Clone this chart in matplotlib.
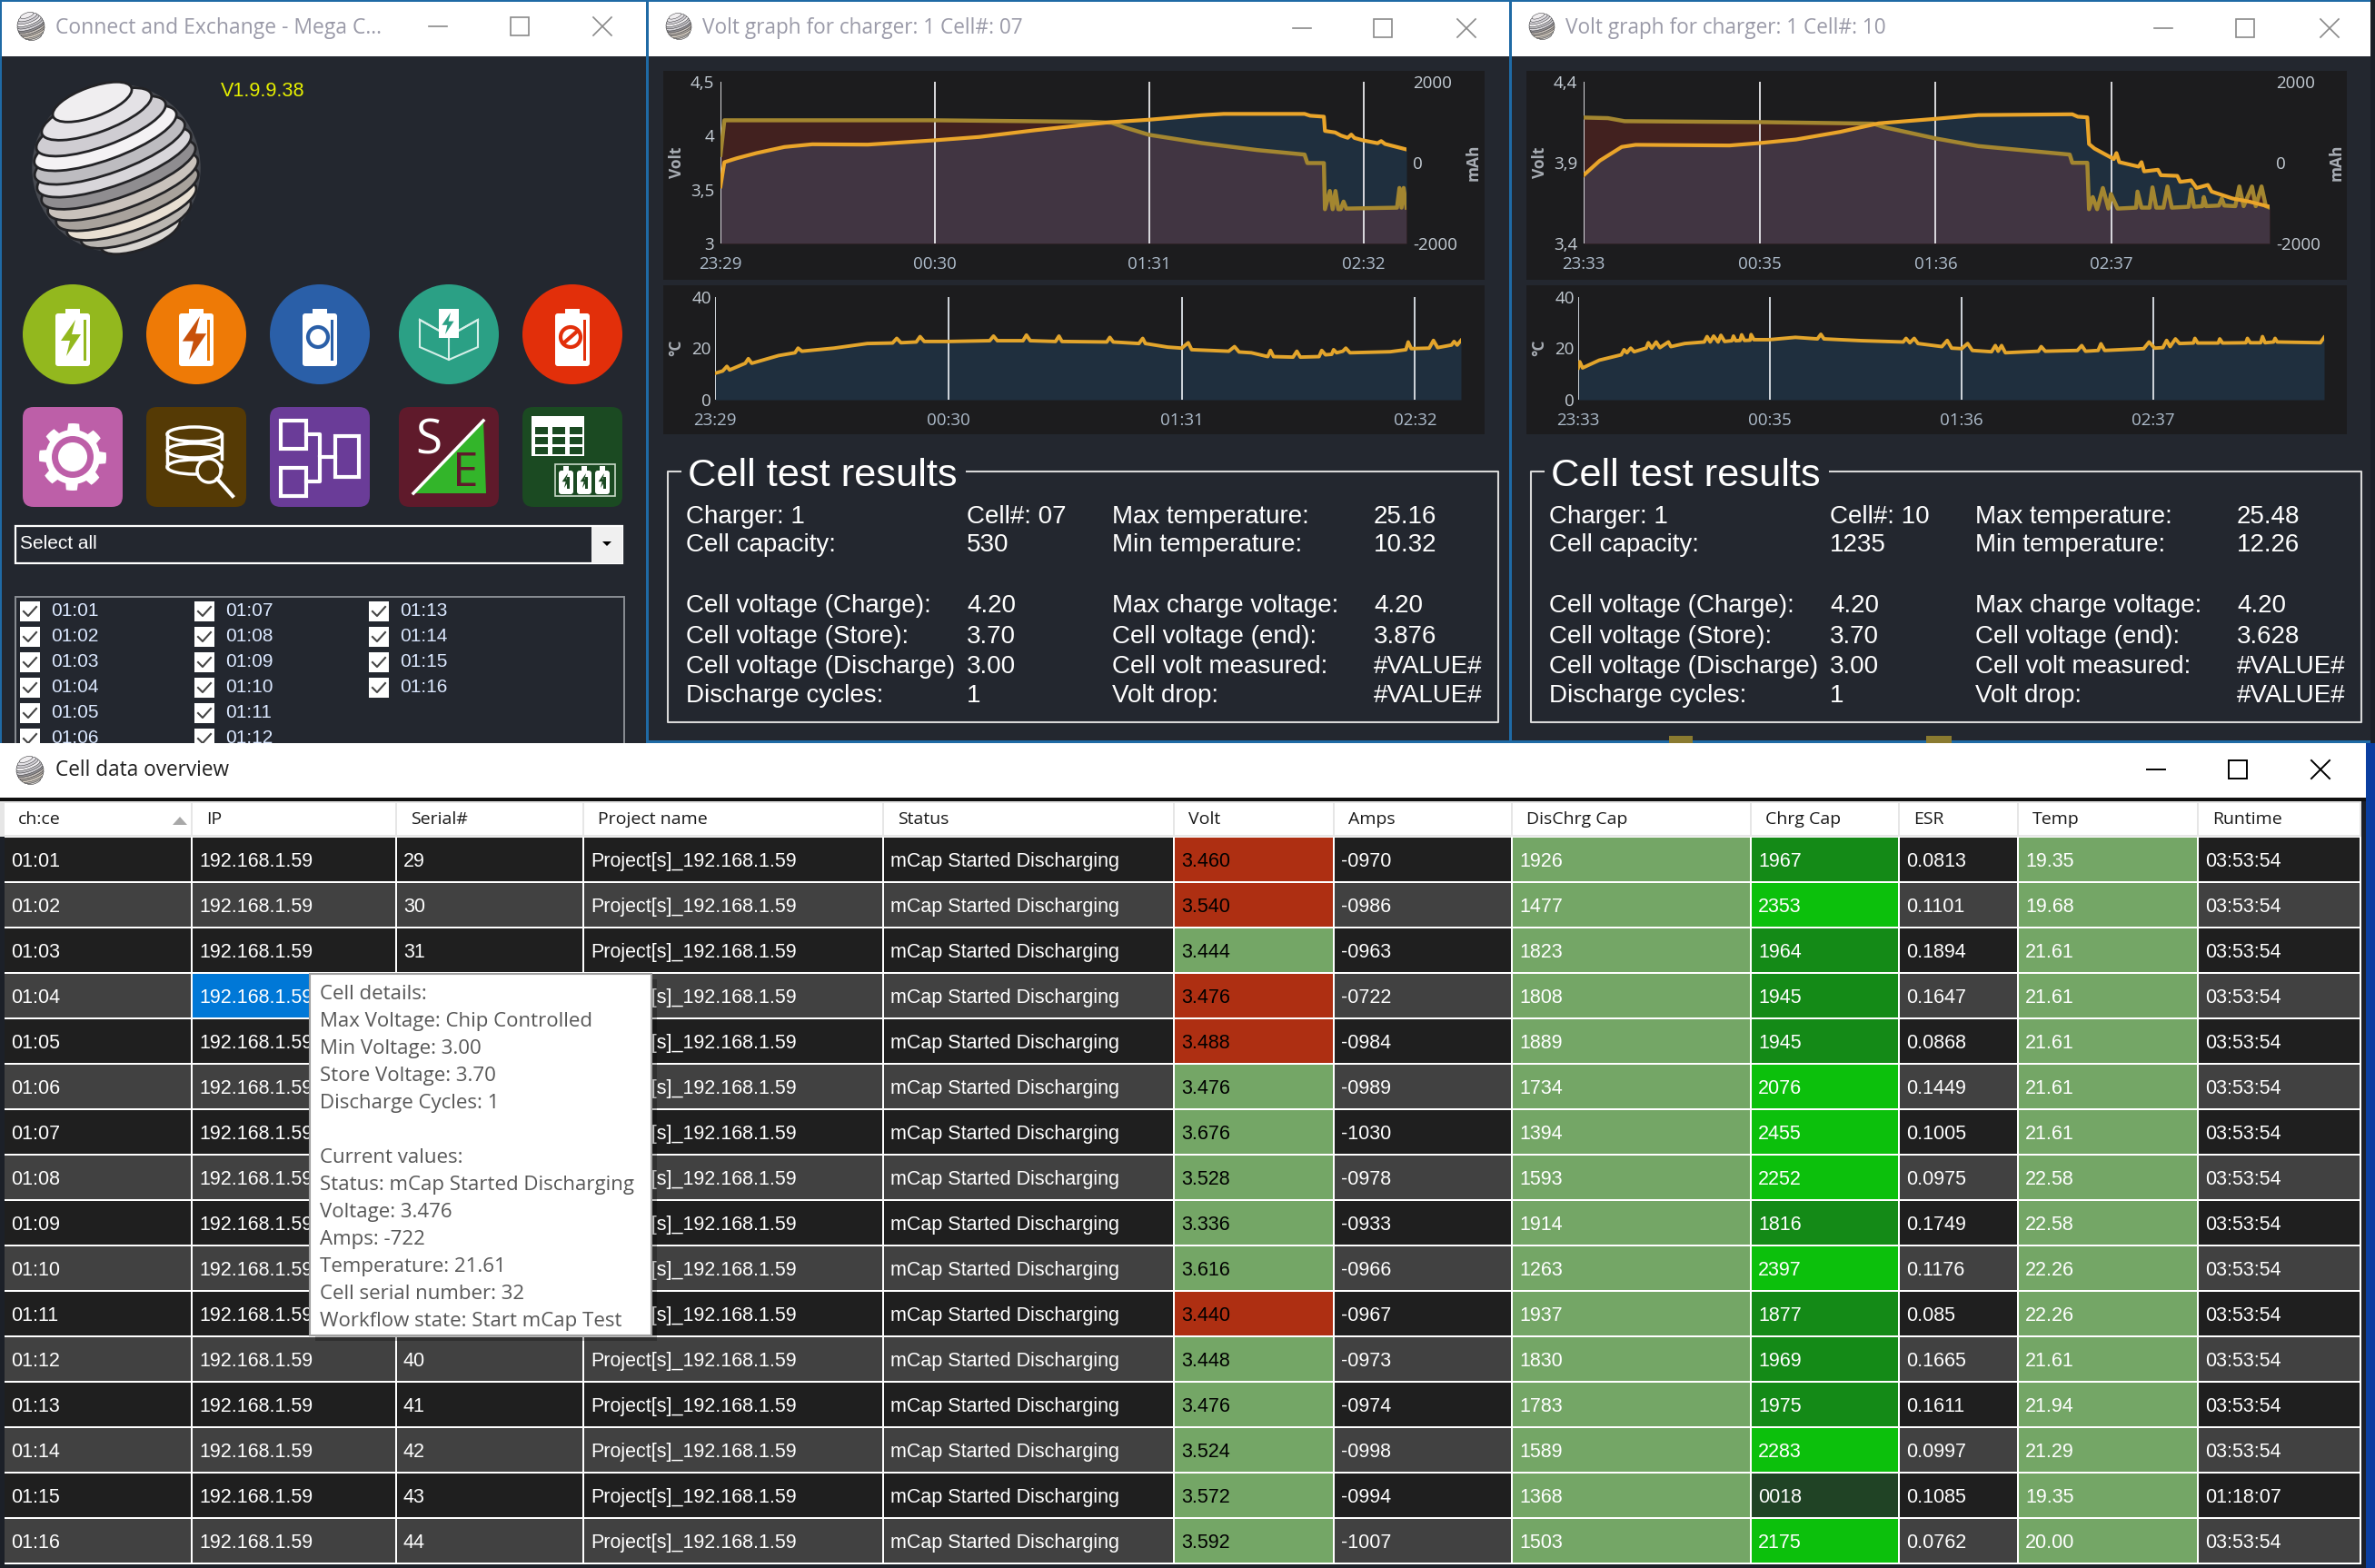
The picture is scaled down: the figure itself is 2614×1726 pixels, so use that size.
import numpy as np
import matplotlib
matplotlib.use("Agg")
import matplotlib.pyplot as plt
from matplotlib.patches import Rectangle, Circle, Ellipse, Polygon, FancyBboxPatch

W, H = 2614, 1726

# ---- graph data, cell 07 ----
t07_volt = [0, 1.1, 4.7, 10.3, 18.2, 26.1, 41.9, 60.9, 73.6, 89.4, 105.3, 111.3, 122, 136.9, 143.2, 166.2,
            167.8, 171.7, 172, 174.9, 176.5, 178.5, 179.5, 180.4, 182.8, 187, 188, 189.1, 195.2]
volt07 = [3.529, 3.754, 3.791, 3.839, 3.895, 3.920, 3.917, 3.957, 3.988, 4.050, 4.106, 4.126, 4.148, 4.190, 4.202, 4.202,
          4.185, 4.176, 4.044, 4.030, 4.002, 3.98, 4.01, 3.979, 3.957, 3.93, 3.95, 3.923, 3.872]
t07_mah = [0, 1.1, 60.9, 105.3, 111.3, 114.9, 122, 136.9, 152.7, 166.2, 167, 171.7, 172, 173.4, 174.2, 175, 175.8, 176.5,
           177.3, 178.1, 192.5, 193.2, 193.8, 194.4, 195.2]
mah07 = [190, 1047, 1047, 1010, 987, 874, 687, 484, 311, 199, -11, -11, -1152, -702, -1152, -702, -1152, -1152,
         -964, -1137, -1114, -627, -1114, -627, -1114]
t07_temp = [0, 2, 3.1, 3.8, 7.9, 8.7, 9.6, 16.6, 20.9, 21.7, 22.7, 31.1, 39.8, 46.4, 47.5, 48.6, 52.6, 53.6, 54.7, 61.1,
            71.8, 72.8, 73.8, 80.5, 81.4, 82.4, 89, 89.9, 90.7, 102.4, 103.2, 104.1, 110.8, 111.8, 112.5, 118.3, 122,
            123.7, 124.6, 134.3, 135.8, 137, 140.2, 144.5, 145.2, 146, 151.1, 152.1, 153, 157.9, 158.6, 159.6, 161.2,
            161.7, 162.5, 164.1, 164.9, 166, 176.5, 180.6, 181.2, 182, 186.7, 187.8, 188.9, 192.5, 193.2, 194, 195]
temp07 = [10.3, 11.2, 13.0, 11.6, 14.2, 16.0, 14.2, 17.2, 18.3, 20.1, 18.9, 20.1, 21.9, 22.1, 23.9, 22.2, 22.5, 24.6, 22.7, 22.7,
          23.0, 24.8, 23.0, 23.0, 25.2, 23.0, 22.7, 24.8, 22.7, 22.5, 24.3, 22.5, 21.9, 23.9, 21.9, 20.5, 20.1,
          22.2, 19.5, 18.9, 20.7, 18.6, 18.3, 16.8, 19.2, 16.8, 16.6, 18.9, 16.6, 16.8, 19.2, 17.5, 17.7,
          19.5, 18.3, 18.9, 20.1, 18.3, 18.7, 19.5, 22.5, 19.9, 20.1, 23.1, 20.3, 21.3, 22.7, 21.3, 23.1]

# ---- graph data, cell 10 ----
t10_volt = [0, 5.6, 13.2, 18, 50.6, 61.1, 73.6, 88.9, 102.3, 122.1, 136.8, 169.4, 171.3, 174.6, 175.2, 177.1, 183.8, 184.7,
            185.7, 192.4, 193.4, 194.3, 199.1, 200.1, 205.8, 206.8, 210.6, 212.5, 216.4, 217.7, 225, 230.7, 237.8]
volt10 = [3.822, 3.912, 3.997, 4.010, 4.006, 4.021, 4.043, 4.090, 4.143, 4.171, 4.194, 4.199, 4.184, 4.180, 4.015, 3.987, 3.922, 3.959,
          3.903, 3.875, 3.903, 3.846, 3.856, 3.822, 3.818, 3.781, 3.790, 3.743, 3.762, 3.721, 3.678, 3.659, 3.627]
t10_mah = [0, 8.4, 14.2, 61.1, 100.4, 104.3, 122.1, 136.8, 168.5, 169.4, 174.6, 175.2, 176.5, 178, 180, 181.9, 182.8, 185.1, 191.5, 192,
           193.4, 196.2, 197.2, 198.5, 201, 202.4, 203.9, 209.7, 210.6, 211.6, 214.5, 215, 215.8, 220.2, 221.2, 222.1,
           225.9, 227.3, 228.8, 231.7, 233, 235, 236.5, 237.8]
mah10 = [1115, 1100, 1025, 1002, 964, 874, 597, 409, 199, -4, -4, -1152, -852, -1152, -627, -1137, -777, -1137, -1114, -717,
         -1114, -1114, -612, -1114, -1114, -590, -1114, -1092, -664, -1092, -1077, -852, -1077, -1062, -889, -1062,
         -1077, -590, -1077, -590, -1077, -590, -1077, -1114]
t10_temp = [0, 0.5, 1.4, 6.7, 13.7, 14.6, 15.5, 16.7, 17.8, 21.6, 22.3, 23.4, 24.8, 26, 28.7, 29.5, 33.9, 40.1, 41, 42, 43.1, 44.5,
            45.4, 46.6, 48.9, 49.4, 50.1, 51.5, 52, 52.9, 54.7, 55, 55.9, 60.8, 69.1, 76.1, 77.2, 78.2, 90.2, 103.4, 104.3,
            105.5, 106.9, 108.1, 115.7, 117.4, 118.8, 122, 123.9, 125.4, 131.5, 132.7, 133.6, 134.7, 135.9, 146.4, 147.3,
            148.6, 158.8, 160.2, 161.4, 165.4, 166.3, 167.5, 179.9, 181.6, 183.4, 186, 187.2, 188.3, 190, 191.3, 195.7,
            196.2, 197.1, 203.6, 204.1, 205, 212.4, 212.9, 213.8, 217.1, 217.7, 218.5, 221.2, 221.7, 222.4, 236.1, 237.3]
temp10 = [12.4, 14.8, 12.4, 15.4, 17.5, 19.5, 18.3, 20.1, 18.7, 20.1, 22.2, 20.1, 22.5, 20.3, 22.5, 20.7, 21.9, 22.5, 24.6, 22.5, 24.8, 22.5,
          25.1, 22.7, 23.0, 24.8, 23.0, 23.1, 25.3, 23.1, 23.2, 25.4, 23.4, 23.4, 24.3, 23.7, 25.5, 23.7, 23.0, 22.5, 23.9,
          22.2, 23.9, 21.9, 20.7, 23.1, 20.1, 19.9, 21.9, 19.2, 18.7, 21.1, 18.9, 21.1, 18.3, 18.9, 20.7,
          18.9, 19.2, 21.1, 18.9, 19.2, 21.8, 19.2, 19.9, 22.5, 20.1, 20.3, 23.1, 20.7, 23.7, 21.9, 22.1,
          23.9, 22.1, 22.1, 23.7, 22.1, 22.2, 23.9, 22.2, 22.2, 24.6, 22.2, 22.5, 23.9, 22.5, 22.2, 24.3]

tick_min = [0, 61, 122, 183]
xlabels07 = ["23:29", "00:30", "01:31", "02:32"]
xlabels10 = ["23:33", "00:35", "01:36", "02:37"]

# ---- table data ----
channels = ["01:%02d" % i for i in range(1, 17)]
ips = ["192.168.1.59"] * 16
serials = [29, 30, 31, 32, 33, 34, 35, 36, 37, 38, 39, 40, 41, 42, 43, 44]
projects = ["Project[s]_192.168.1.59"] * 16
statuses = ["mCap Started Discharging"] * 16
volts = ["3.460", "3.540", "3.444", "3.476", "3.488", "3.476", "3.676", "3.528",
         "3.336", "3.616", "3.440", "3.448", "3.476", "3.524", "3.572", "3.592"]
volt_bad = [1, 1, 0, 1, 1, 0, 0, 0, 0, 0, 1, 0, 0, 0, 0, 0]
amps = ["-0970", "-0986", "-0963", "-0722", "-0984", "-0989", "-1030", "-0978",
        "-0933", "-0966", "-0967", "-0973", "-0974", "-0998", "-0994", "-1007"]
dischrg = ["1926", "1477", "1823", "1808", "1889", "1734", "1394", "1593",
           "1914", "1263", "1937", "1830", "1783", "1589", "1368", "1503"]
chrg = ["1967", "2353", "1964", "1945", "1945", "2076", "2455", "2252",
        "1816", "2397", "1877", "1969", "1975", "2283", "0018", "2175"]
esr = ["0.0813", "0.1101", "0.1894", "0.1647", "0.0868", "0.1449", "0.1005", "0.0975",
       "0.1749", "0.1176", "0.085", "0.1665", "0.1611", "0.0997", "0.1085", "0.0762"]
temps = ["19.35", "19.68", "21.61", "21.61", "21.61", "21.61", "21.61", "22.58",
         "22.58", "22.26", "22.26", "21.61", "21.94", "21.29", "19.35", "20.00"]
runtime = ["03:53:54"] * 14 + ["01:18:07", "03:53:54"]
headers = ["ch:ce", "IP", "Serial#", "Project name", "Status", "Volt", "Amps", "DisChrg Cap", "Chrg Cap", "ESR", "Temp", "Runtime"]

tooltip = ["Cell details:", "Max Voltage: Chip Controlled", "Min Voltage: 3.00", "Store Voltage: 3.70", "Discharge Cycles: 1", "",
           "Current values:", "Status: mCap Started Discharging", "Voltage: 3.476", "Amps: -722", "Temperature: 21.61",
           "Cell serial number: 32", "Workflow state: Start mCap Test"]

results_left = ["Charger: {ch}", "Cell capacity:", "", "Cell voltage (Charge):", "Cell voltage (Store):",
                "Cell voltage (Discharge)", "Discharge cycles:"]
results_right = ["Max temperature:", "Min temperature:", "", "Max charge voltage:", "Cell voltage (end):",
                 "Cell volt measured:", "Volt drop:"]
results07 = (["Cell#: 07", "530", "", "4.20", "3.70", "3.00", "1"], ["25.16", "10.32", "", "4.20", "3.876", "#VALUE#", "#VALUE#"])
results10 = (["Cell#: 10", "1235", "", "4.20", "3.70", "3.00", "1"], ["25.48", "12.26", "", "4.20", "3.628", "#VALUE#", "#VALUE#"])

SANS = "Liberation Sans"
UI = "Open Sans"
BG = "#23272f"
PANEL = "#1c1c1e"

fig = plt.figure(figsize=(W / 100, H / 100), dpi=100, facecolor=BG)
base = fig.add_axes([0, 0, 1, 1])
base.set_xlim(0, W)
base.set_ylim(H, 0)
base.axis("off")


def rect(x0, y0, x1, y1, color, z=1, **kw):
    base.add_patch(Rectangle((x0, y0), x1 - x0, y1 - y0, facecolor=color, edgecolor="none", zorder=z, **kw))


def txt(x, y, s, size=15, color="white", family=SANS, ha="left", z=5, **kw):
    base.text(x, y, s, fontsize=size, color=color, family=family, ha=ha, va="center", zorder=z, **kw)


def sphere(cx, cy, r, z=3):
    # stacked tilted discs, the upper ones lie on the lower ones
    base.add_patch(Circle((cx, cy), r * 1.03, facecolor="#8a8a8e", alpha=0.35, edgecolor="none", zorder=z))
    shades = ["#f0eef0", "#e4e2e6", "#cfcdd2", "#f4f2f4", "#bdbcc0", "#d8d6da", "#8f8d90", "#c9c2bc", "#a8a29c", "#e8dfd2",
              "#b9b5b0", "#d9d6d2"]
    n = len(shades)
    ang = np.radians(-20)
    for i in range(n - 1, -1, -1):
        d = -r * 0.86 + i * 2 * r * 0.86 / (n - 1)
        w = 2 * np.sqrt(max(r * r - d * d, 1))
        ex = cx - d * np.sin(ang)
        ey = cy + d * np.cos(ang)
        base.add_patch(Ellipse((ex, ey), w, w * 0.2 + r * 0.16, angle=-20, facecolor=shades[i], edgecolor="#232326",
                               lw=max(r / 45, 0.3), zorder=z + 0.1 + (n - i) * 0.01))


def window_buttons(xmin, xmax, xclose, y, color="#8a8a8a"):
    base.plot([xmin - 10, xmin + 10], [y, y], color=color, lw=1.2, zorder=5)
    base.add_patch(Rectangle((xmax - 10, y - 10), 20, 20, facecolor="none", edgecolor=color, lw=1.2, zorder=5))
    base.plot([xclose - 10, xclose + 10], [y - 10, y + 10], color=color, lw=1.2, zorder=5)
    base.plot([xclose - 10, xclose + 10], [y + 10, y - 10], color=color, lw=1.2, zorder=5)


def bolt(cx, cy, s, color, z=6):
    pts = [(0.25, -1), (-0.55, 0.15), (-0.05, 0.15), (-0.25, 1), (0.55, -0.2), (0.05, -0.2)]
    base.add_patch(Polygon([(cx + px * s, cy + py * s) for px, py in pts], facecolor=color, edgecolor="none", zorder=z))


def battery(cx, cy, color, z=5, w=38, h=58):
    base.add_patch(FancyBboxPatch((cx - w / 2 + 3, cy - h / 2 + 6), w - 6, h - 6, boxstyle="round,pad=3", facecolor="white",
                                  edgecolor="none", zorder=z))
    rect(cx - w / 5, cy - h / 2 - 2, cx + w / 5, cy - h / 2 + 6, "white", z=z)
    rect(cx + w / 2 - 7, cy - h / 2 + 10, cx + w / 2 - 4, cy + h / 2 - 3, color, z=z + 1)


def rounded(cx, cy, fc, half=55, z=4):
    base.add_patch(FancyBboxPatch((cx - half + 12, cy - half + 12), 2 * half - 24, 2 * half - 24, boxstyle="round,pad=12",
                                  facecolor=fc, edgecolor="none", zorder=z))


def left_window():
    rect(0, 62, 711, 830, BG)
    rect(0, 0, 711, 62, "white")
    rect(0, 0, 711, 2, "#1f6aa5", z=2)
    rect(0, 0, 2, 830, "#1f6aa5", z=2)
    sphere(34, 29, 15)
    txt(61, 31, "Connect and Exchange - Mega C...", 16.5, "#9a9aa8", UI)
    window_buttons(482, 572, 663, 29)
    txt(243, 101, "V1.9.9.38", 15.6, "#e6f000")
    sphere(128, 185, 90)

    circle_x = [80, 216, 352, 494, 630]
    circle_c = ["#93b81e", "#ee7a06", "#2a5fa8", "#2ba085", "#e22f0a"]
    for cx, c in zip(circle_x, circle_c):
        base.add_patch(Circle((cx, 368), 55, facecolor=c, edgecolor="none", zorder=4))
    for i in [0, 1, 2, 4]:
        battery(circle_x[i], 371, circle_c[i])
    bolt(78, 372, 20, "#93b81e")
    bolt(214, 372, 24, "#c8500a")
    base.add_patch(Circle((350, 371), 11, facecolor="none", edgecolor="#2a5fa8", lw=3, zorder=6))
    base.add_patch(Circle((628, 371), 11, facecolor="none", edgecolor="#e22f0a", lw=3, zorder=6))
    base.plot([620, 636], [378, 364], color="#e22f0a", lw=3, zorder=6)
    # box icon
    base.add_patch(Polygon([(494, 370), (526, 352), (526, 382), (494, 396), (462, 382), (462, 352)], facecolor="none",
                           edgecolor="#d5efe8", lw=1.5, zorder=5))
    base.plot([462, 494, 526], [352, 370, 352], color="#d5efe8", lw=1.5, zorder=5)
    base.plot([494, 494], [370, 396], color="#d5efe8", lw=1.5, zorder=5)
    rect(483, 340, 505, 372, "white", z=6)
    bolt(493, 356, 12, "#2ba085", z=7)

    square_c = ["#bd5fa8", "#553a05", "#6a3c98", "#5f1a2b", "#1b4a22"]
    for cx, c in zip(circle_x, square_c):
        rounded(cx, 503, c)
    # gear
    ang = np.linspace(0, 2 * np.pi, 97)
    rad = 37 - 7 * (np.cos(8 * ang) < 0)
    base.add_patch(Polygon(np.c_[80 + rad * np.cos(ang), 503 + rad * np.sin(ang)], facecolor="white", edgecolor="none", zorder=5))
    base.add_patch(Circle((80, 503), 23, facecolor="#bd5fa8", edgecolor="none", zorder=6))
    base.add_patch(Circle((80, 503), 16, facecolor="white", edgecolor="none", zorder=7))
    # database
    for y in [478, 496, 514]:
        base.add_patch(Ellipse((214, y), 60, 16, facecolor="#553a05", edgecolor="white", lw=2.5, zorder=5))
    base.plot([184, 184], [478, 514], color="white", lw=2.5, zorder=5)
    base.plot([244, 244], [478, 505], color="white", lw=2.5, zorder=5)
    base.add_patch(Circle((230, 518), 13, facecolor="#553a05", edgecolor="white", lw=2.5, zorder=6))
    base.plot([239, 256], [527, 546], color="white", lw=3, zorder=6)
    # flow chart
    for x0, y0, x1, y1 in [(309, 463, 337, 494), (309, 515, 337, 546), (369, 480, 395, 525)]:
        base.add_patch(Rectangle((x0, y0), x1 - x0, y1 - y0, facecolor="none", edgecolor="white", lw=3, zorder=5))
    base.plot([337, 352, 352, 369], [478, 478, 503, 503], color="white", lw=3, zorder=5)
    base.plot([337, 352, 352], [530, 530, 503], color="white", lw=3, zorder=5)
    # S/E
    base.add_patch(Polygon([(532, 463), (535, 543), (455, 543)], facecolor="#33b52a", edgecolor="none", zorder=5))
    base.plot([455, 532], [543, 463], color="white", lw=2.5, zorder=6)
    txt(472, 486, "S", 38, "white", UI, z=7, ha="center")
    txt(512, 521, "E", 37, "#5f1a2b", UI, z=7, ha="center")
    # table + batteries
    rect(585, 458, 643, 502, "white", z=5)
    for cx0 in [589, 608, 627]:
        for cy0 in [470, 481, 492]:
            rect(cx0, cy0, cx0 + 14, cy0 + 8, "#1b4a22", z=6)
    base.add_patch(Rectangle((611, 511), 66, 35, facecolor="none", edgecolor="#c8d8c8", lw=1.2, zorder=5))
    for bx in [623, 643, 663]:
        battery(bx, 528, "#1b4a22", z=6, w=16, h=26)
        bolt(bx, 529, 8, "#1b4a22", z=8)

    # combo box
    base.add_patch(Rectangle((17, 579), 668, 41, facecolor=BG, edgecolor="white", lw=1.6, zorder=4))
    rect(651, 580, 685, 620, "#f0f0f0", z=5)
    base.add_patch(Polygon([(663, 596), (673, 596), (668, 601)], facecolor="black", edgecolor="none", zorder=6))
    txt(22, 598, "Select all", 15, "white")

    # check list
    base.add_patch(Rectangle((17, 657), 670, 200, facecolor=BG, edgecolor="#8a8e94", lw=1.4, zorder=4))
    col_x = [22, 214, 406]
    for i, ch in enumerate(channels):
        c = col_x[i // 6]
        y = 673 + (i % 6) * 28
        rect(c, y - 11, c + 22, y + 11, "white", z=5)
        base.plot([c + 4, c + 9, c + 18], [y, y + 5, y - 5], color="#444444", lw=1.5, zorder=6)
        txt(c + 34, y - 1, ch, 15, "#dbe8ff")


def graph_window(x0, title, xmin, xmax, xclose, x_up, x_up_r, x_lo, x_lo_r, panel_x, t_v, v, t_m, m, t_t, temp,
                 ylim, yticks, ylabels, xlabels, span_up, span_lo, cell_left, cell_right, charger):
    rect(x0, 0, x0 + 950, 62, "white")
    rect(x0, 62, x0 + 950, 815, BG)
    rect(x0, 0, x0 + 950, 2, "#1f6aa5", z=2)
    rect(x0 - 2, 0, x0 + 1, 818, "#1f6aa5", z=2)
    rect(x0, 815, x0 + 950, 818, "#1f6aa5", z=2)
    sphere(x0 + 34, 29, 14)
    txt(x0 + 60, 31, title, 16.3, "#9a9aa8", UI)
    window_buttons(xmin, xmax, xclose, 31)
    rect(panel_x[0], 78, panel_x[1], 308, PANEL, z=2)
    rect(panel_x[0], 314, panel_x[1], 478, PANEL, z=2)

    # volt + mAh chart
    pos = [x_up / W, 1 - 268 / H, (x_up_r - x_up) / W, (268 - 90) / H]
    ax = fig.add_axes(pos, facecolor="none")
    ax.set_xlim(0, span_up)
    ax.set_ylim(*ylim)
    ax_m = ax.twinx()
    ax_m.set_ylim(-2000, 2000)
    ax_top = ax.twinx()
    ax_top.set_ylim(-2000, 2000)
    ax_top.axis("off")
    ax_v = ax.twinx()
    ax_v.set_ylim(*ylim)
    ax_v.axis("off")
    under_v = ax.fill_between(t_v, v, ylim[0], color="#1f2f3e", lw=0)
    ax_m.fill_between(t_m, m, -2000, color="#42211f", lw=0)
    overlap = ax_m.fill_between(t_m, m, -2000, color="#413542", lw=0)
    overlap.set_clip_path(under_v.get_paths()[0], ax.transData)
    for tm in tick_min:
        ax_top.axvline(tm, color="#e8e8ec", lw=1.3, zorder=1)
    ax_top.plot(t_m, m, color="#a38630", lw=3.2, zorder=2)
    ax_v.plot(t_v, v, color="#eaa52a", lw=3.0, zorder=3)
    ax.set_xticks(tick_min)
    ax.set_xticklabels(xlabels, family=UI, fontsize=13.5, color="#aebccb")
    ax.set_yticks(yticks)
    ax.set_yticklabels(ylabels, family=UI, fontsize=13.5, color="#c4ccd4")
    ax_m.set_yticks([-2000, 0, 2000])
    ax_m.set_yticklabels(["-2000", "0", "2000"], family=UI, fontsize=13.5, color="#c4ccd4")
    ax.tick_params(length=0, axis="x", pad=10)
    ax.tick_params(length=0, axis="y", pad=5)
    ax_m.tick_params(length=0, pad=5)
    for a in (ax, ax_m, ax_top, ax_v):
        for s in a.spines.values():
            s.set_visible(False)
    txt(x0 + 32, 179, "Volt", 12.5, "#a8adb4", UI, ha="center", rotation=90, fontweight="bold")
    txt(x_up_r + 74, 179, "mAh", 12.5, "#a8adb4", UI, ha="center", rotation=90, fontweight="bold")

    # temperature chart
    ax2 = fig.add_axes([x_lo / W, 1 - 440 / H, (x_lo_r - x_lo) / W, (440 - 327) / H], facecolor="none")
    ax2.set_xlim(0, span_lo)
    ax2.set_ylim(0, 40)
    ax2.fill_between(t_t, temp, 0, color="#1f2f3e", lw=0)
    for tm in tick_min:
        ax2.axvline(tm, color="#d0d6dc", lw=1.4, zorder=2)
    ax2.plot(t_t, temp, color="#e3a52c", lw=2.8, zorder=3)
    ax2.set_xticks(tick_min)
    ax2.set_xticklabels(xlabels, family=UI, fontsize=13.5, color="#aebccb")
    ax2.set_yticks([0, 20, 40])
    ax2.set_yticklabels(["0", "20", "40"], family=UI, fontsize=13.5, color="#c4ccd4")
    ax2.tick_params(length=0, axis="x", pad=10)
    ax2.tick_params(length=0, axis="y", pad=3)
    for s in ax2.spines.values():
        s.set_visible(False)
    txt(x0 + 31, 383, "°C", 12.5, "#a8adb4", UI, ha="center", rotation=90, fontweight="bold")

    # results box
    dx = x0 - 713
    bx0, bx1 = 735 + dx, 1649 + dx
    base.plot([bx0 + 14, bx0, bx0, bx1, bx1, 1064 + dx], [519, 519, 795, 795, 519, 519], color="#d8d8d8", lw=1.5, zorder=4)
    txt(757 + dx, 524, "Cell test results", 31.2, "white")
    rows_y = [569, 600, 634, 667, 701, 734, 766]
    for i, y in enumerate(rows_y):
        txt(755 + dx, y, results_left[i].format(ch=charger), 20, "white")
        txt(1064 + dx, y, cell_left[i], 20, "white")
        txt(1224 + dx, y, results_right[i], 20, "white")
        txt(1512 + dx, y, cell_right[i], 20, "white")


def table_window():
    rect(1837, 810, 1863, 818, "#8a7a30", z=5)
    rect(2120, 810, 2148, 818, "#8a7a30", z=5)
    rect(0, 818, 2614, 1726, "#1c2028", z=6)
    rect(2604, 818, 2614, 1726, "#0a3ea0", z=6)
    rect(0, 818, 2604, 878, "white", z=6)
    rect(0, 878, 2604, 882, "#101010", z=6)
    rect(0, 882, 2599, 921, "#e6e6e6", z=6)
    sphere(33, 848, 15, z=7)
    txt(61, 848, "Cell data overview", 16.3, "#202020", UI, z=8)
    base.plot([2363, 2383], [847, 847], color="black", lw=1.4, zorder=8)
    base.add_patch(Rectangle((2453, 837), 20, 20, facecolor="none", edgecolor="black", lw=1.4, zorder=8))
    base.plot([2544, 2564], [837, 857], color="black", lw=1.4, zorder=8)
    base.plot([2544, 2564], [857, 837], color="black", lw=1.4, zorder=8)

    edges = [5, 212, 437, 643, 973, 1293, 1469, 1665, 1928, 2091, 2222, 2420, 2599]
    for k, h in enumerate(headers):
        rect(edges[k], 884, edges[k + 1] - 2, 919, "white", z=7)
        txt(edges[k] + 15, 902, h, 14, "#1a1a1a", UI, z=8)
    base.add_patch(Polygon([(190, 908), (206, 908), (198, 899)], facecolor="#a8a8a8", edgecolor="none", zorder=8))

    rect(0, 921, 2604, 1722, "white", z=6)
    rect(0, 1722, 2604, 1726, "#1c2028", z=6)
    rect(0, 921, 5, 1722, "#1c2028", z=6)
    rect(2599, 921, 2604, 1722, "#1c2028", z=6)
    columns = [channels, ips, serials, projects, statuses, volts, amps, dischrg, chrg, esr, temps, runtime]
    for r in range(16):
        top = 922 + 50 * r
        row_bg = "#1f1f1f" if r % 2 == 0 else "#414141"
        for k, col in enumerate(columns):
            fc, tc = row_bg, "white"
            if k == 5:
                fc, tc = ("#ae2f12" if volt_bad[r] else "#74a666"), "black"
            elif k in (7, 10):
                fc = "#74a666"
            elif k == 8:
                val = int(chrg[r])
                fc = "#204325" if val < 100 else ("#0cc00c" if val >= 2000 else "#148a17")
            if k == 1 and r == 3:
                fc = "#0078d7"
            rect(edges[k], top, edges[k + 1] - 2, top + 48, fc, z=7)
            txt(edges[k] + 7, top + 26, str(col[r]), 15.5, tc, z=8)

    # tooltip over the table
    rect(347, 1078, 723, 1476, "#00000040", z=9)
    base.add_patch(Rectangle((341, 1072), 376, 398, facecolor="white", edgecolor="#a0a0a0", lw=1.5, zorder=10))
    for i, line in enumerate(tooltip):
        txt(352, 1094 + 30 * i, line, 16, "#575757", UI, z=11)


left_window()
graph_window(713, "Volt graph for charger: 1 Cell#: 07", 1433, 1522, 1614, 793, 1548, 787, 1608, (730, 1634),
             t07_volt, volt07, t07_mah, mah07, t07_temp, temp07, (3, 4.5), [3, 3.5, 4, 4.5], ["3", "3,5", "4", "4,5"],
             xlabels07, 195.2, 195, results07[0], results07[1], "1")
graph_window(1663, "Volt graph for charger: 1 Cell#: 10", 2381, 2471, 2564, 1743, 2498, 1737, 2558, (1680, 2583),
             t10_volt, volt10, t10_mah, mah10, t10_temp, temp10, (3.4, 4.4), [3.4, 3.9, 4.4], ["3,4", "3,9", "4,4"],
             xlabels10, 237.8, 237.3, results10[0], results10[1], "1")
rect(2609, 0, 2614, 818, "#1b1f26", z=4)
table_window()

fig.savefig("out.png", dpi=100, facecolor=BG)
